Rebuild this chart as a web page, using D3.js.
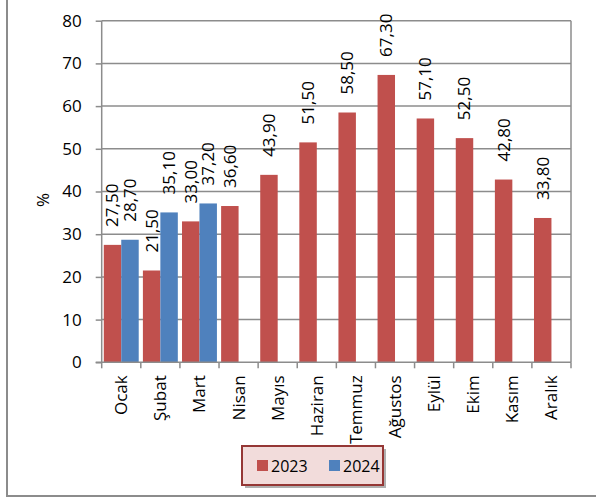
<!DOCTYPE html>
<html>
<head>
<meta charset="utf-8">
<script src="https://cdn.jsdelivr.net/npm/d3@7"></script>
<style>
  body { margin: 0; background: #fff; }
  svg text { font-family: "Open Sans", Lato, sans-serif; fill: #000; }
</style>
</head>
<body>
<svg width="596" height="497"></svg>
<script>
const months = ["Ocak", "Şubat", "Mart", "Nisan", "Mayıs", "Haziran", "Temmuz", "Ağustos", "Eylül", "Ekim", "Kasım", "Aralık"];
const series = ["2023", "2024"];
const values2023 = [27.5, 21.5, 33.0, 36.6, 43.9, 51.5, 58.5, 67.3, 57.1, 52.5, 42.8, 33.8];
const values2024 = [28.7, 35.1, 37.2];
const yTicks = [0, 10, 20, 30, 40, 50, 60, 70, 80];

const colors = { "2023": "#c0504d", "2024": "#4f81bd" };

const svg = d3.select("svg");

// outer chart frame (only left and bottom edges show)
svg.append("path")
  .attr("d", "M7,0 V496 H596")
  .attr("fill", "none")
  .attr("stroke", "#8c8c8c")
  .attr("stroke-width", 2);

const plotLeft = 101.7, plotRight = 571, plotTop = 20.7, plotBottom = 362.3;

let x0 = d3.scaleBand().domain(months).range([plotLeft, plotRight]);
let x1 = d3.scaleBand().domain(series).range([0, x0.bandwidth()]).paddingOuter(0.12);
let y = d3.scaleLinear().domain([0, 80]).range([plotBottom, plotTop]);

// gridlines
svg.append("g")
  .selectAll("line")
  .data(yTicks.filter(d => d > 0))
  .enter()
  .append("line")
  .attr("x1", plotLeft)
  .attr("x2", plotRight)
  .attr("y1", d => y(d))
  .attr("y2", d => y(d))
  .attr("stroke", "#8c8c8c")
  .attr("stroke-width", 1.5);

// right edge of plot area
svg.append("line")
  .attr("x1", plotRight).attr("x2", plotRight)
  .attr("y1", plotTop).attr("y2", plotBottom)
  .attr("stroke", "#8c8c8c")
  .attr("stroke-width", 1.5);

// build flat rows for bars
const rows = [];
months.forEach((m, i) => {
  rows.push({ month: m, year: "2023", value: values2023[i] });
  if (i < values2024.length) rows.push({ month: m, year: "2024", value: values2024[i] });
});

svg.append("g")
  .selectAll("rect")
  .data(rows)
  .enter()
  .append("rect")
  .attr("x", d => x0(d.month) + x1(d.year))
  .attr("y", d => y(d.value))
  .attr("width", x1.bandwidth())
  .attr("height", d => y(0) - y(d.value))
  .attr("fill", d => colors[d.year]);

// data labels
const fmt = d => d3.format(".2f")(d).replace(".", ",");
svg.append("g")
  .selectAll("text")
  .data(rows)
  .enter()
  .append("text")
  .attr("transform", d => "translate(" + (x0(d.month) + x1(d.year) + x1.bandwidth() / 2) + "," + (y(d.value) - 18) + ") rotate(-90)")
  .attr("dy", "0.35em")
  .attr("text-anchor", "start")
  .style("font-size", "17px")
  .text(d => fmt(d.value));

// y axis
let yAxis = d3.axisLeft(y).tickValues(yTicks).tickSize(6).tickPadding(14);
const gy = svg.append("g")
  .attr("transform", "translate(" + plotLeft + ",0)")
  .call(yAxis);
gy.attr("font-family", null).attr("font-size", null);
gy.select(".domain").attr("stroke", "#8c8c8c").attr("stroke-width", 1.5).attr("d", "M0," + plotTop + "V" + plotBottom);
gy.selectAll(".tick line").attr("stroke", "#8c8c8c").attr("stroke-width", 1.5);
gy.selectAll(".tick text").style("font-size", "17px");

// x axis
const gx = svg.append("g").attr("transform", "translate(0," + plotBottom + ")");
gx.append("line")
  .attr("x1", plotLeft - 6).attr("x2", plotRight)
  .attr("stroke", "#8c8c8c").attr("stroke-width", 1.5);
gx.selectAll("line.tk")
  .data(months.map(m => x0(m)).concat([plotRight]))
  .enter()
  .append("line")
  .attr("class", "tk")
  .attr("x1", d => d).attr("x2", d => d)
  .attr("y1", 0).attr("y2", 6)
  .attr("stroke", "#8c8c8c").attr("stroke-width", 1.5);
gx.selectAll("text")
  .data(months)
  .enter()
  .append("text")
  .attr("transform", d => "translate(" + (x0(d) + x0.bandwidth() / 2) + ",13) rotate(-90)")
  .attr("dy", "0.35em")
  .attr("text-anchor", "end")
  .style("font-size", "17px")
  .text(d => d);

// y title
svg.append("text")
  .attr("transform", "translate(43,200) rotate(-90)")
  .attr("dy", "0.35em")
  .attr("text-anchor", "middle")
  .style("font-size", "17px")
  .text("%");

// legend
const lg = svg.append("g").attr("transform", "translate(242,446)");
lg.append("rect")
  .attr("x", 3).attr("y", 3).attr("width", 141).attr("height", 39)
  .attr("fill", "#b0b0b0");
lg.append("rect")
  .attr("width", 141).attr("height", 39)
  .attr("fill", "#f2dcdb")
  .attr("stroke", "#953735")
  .attr("stroke-width", 2);
const items = [{ name: "2023", x: 15 }, { name: "2024", x: 87 }];
items.forEach(it => {
  lg.append("rect")
    .attr("x", it.x).attr("y", 14).attr("width", 11).attr("height", 11)
    .attr("fill", colors[it.name]);
  lg.append("text")
    .attr("x", it.x + 14).attr("y", 20)
    .attr("dy", "0.35em")
    .style("font-size", "16px")
    .text(it.name);
});
</script>
</body>
</html>
